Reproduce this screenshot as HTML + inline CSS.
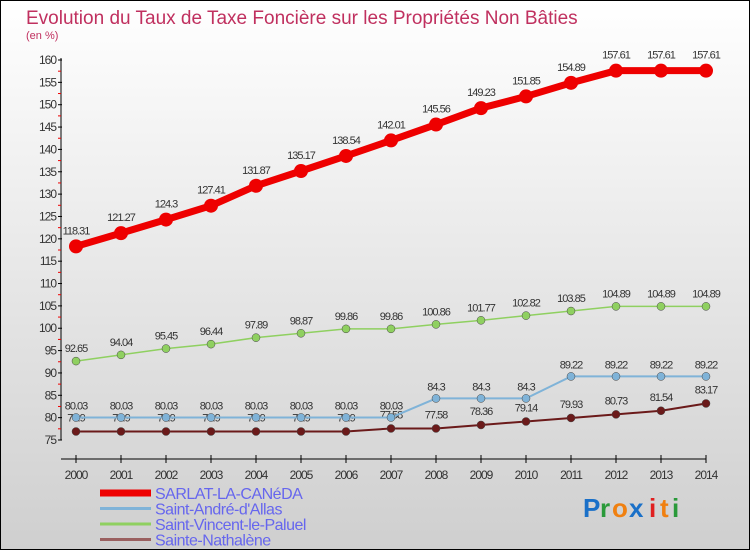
<!DOCTYPE html>
<html><head><meta charset="utf-8"><style>
body{margin:0}
#c{width:750px;height:550px;position:relative;box-sizing:border-box;border:1px solid #000;background:linear-gradient(#fff,#cfcfcf);font-family:"Liberation Sans",sans-serif;overflow:hidden}
</style></head><body>
<div id="c">
<svg id="s" width="750" height="550" style="position:absolute;left:-1px;top:-1px"></svg>
</div>
<script>
const years=[2000,2001,2002,2003,2004,2005,2006,2007,2008,2009,2010,2011,2012,2013,2014];
const sarlat=[118.31,121.27,124.3,127.41,131.87,135.17,138.54,142.01,145.56,149.23,151.85,154.89,157.61,157.61,157.61];
const andre=[80.03,80.03,80.03,80.03,80.03,80.03,80.03,80.03,84.3,84.3,84.3,89.22,89.22,89.22,89.22];
const vincent=[92.65,94.04,95.45,96.44,97.89,98.87,99.86,99.86,100.86,101.77,102.82,103.85,104.89,104.89,104.89];
const nath=[76.9,76.9,76.9,76.9,76.9,76.9,76.9,77.58,77.58,78.36,79.14,79.93,80.73,81.54,83.17];
const yTicks=[75,80,85,90,95,100,105,110,115,120,125,130,135,140,145,150,155,160];
const NS="http://www.w3.org/2000/svg",s=document.getElementById('s');
const X=i=>76+i*45, Y=v=>440-(v-75)*380/85;
function el(t,a,p){const e=document.createElementNS(NS,t);for(const k in a)e.setAttribute(k,a[k]);(p||s).appendChild(e);return e;}
function tx(x,y,str,a){const e=el('text',Object.assign({x:x,y:y},a));e.textContent=str;return e;}
let t=tx(26,24,"Evolution du Taux de Taxe Foncière sur les Propriétés Non Bâties",{fill:"#c0305f","font-size":19});

t=tx(26,39,"(en %)",{fill:"#c0305f","font-size":11});

el('line',{x1:61,y1:58,x2:61,y2:440,stroke:"#000"});
el('line',{x1:61,y1:459,x2:706,y2:459,stroke:"#000"});
yTicks.forEach(v=>{el('line',{x1:58,x2:62,y1:Y(v),y2:Y(v),stroke:"#000"});
 if(v<160)el('line',{x1:58,x2:61,y1:Y(v+2.5),y2:Y(v+2.5),stroke:"#e00"});
 const l=tx(56,Y(v)+4,v,{"text-anchor":"end","font-size":12,fill:"#333","letter-spacing":"-1"});
 });
years.forEach((y,i)=>{el('line',{x1:X(i),x2:X(i),y1:455,y2:463,stroke:"#000"});
 const l=tx(X(i),479,y,{"text-anchor":"middle","font-size":12,fill:"#333","letter-spacing":"-1"});
 });
function series(d,col,w,r,name,lab,dy){
 const g=el('g',{});
 el('polyline',{points:d.map((v,i)=>X(i)+','+Y(v)).join(' '),fill:"none",stroke:col,"stroke-width":w},g);
 d.forEach((v,i)=>{const c=el('circle',{cx:X(i),cy:Y(v),r:r,fill:col,stroke:r>4?"none":"#444","stroke-width":0.5},g);
  
  tx(X(i),Y(v)+dy,String(v).replace(/\.?0+$/,m=>m.includes('.')?'':m),{"text-anchor":"middle","font-size":11,fill:"#333","letter-spacing":"-1"},g);});
}
series(nath,"#6b1a1a",2,4,"sainte-nathalene-series",1,-10);
series(andre,"#7fb3d8",2,4,"saint-andre-series",1,-8);
series(vincent,"#8fd060",1.5,4,"saint-vincent-series",1,-9);
series(sarlat,"#ee0000",7,7,"sarlat-series",1,-12);
const leg=[["SARLAT-LA-CANéDA","#ee0000",7],["Saint-André-d'Allas","#7fb3d8",3],["Saint-Vincent-le-Paluel","#8fd060",3],["Sainte-Nathalène","#9a6060",3]];
leg.forEach((l,i)=>{const g=el('g',{});
 const y=493+i*15.5;el('line',{x1:100,x2:151,y1:y,y2:y,stroke:l[1],"stroke-width":l[2]},g);
 tx(155,y+6,l[0],{"font-size":16,fill:"#6666ee","letter-spacing":"-0.5"},g);});
const lg=el('g',{});
[["P","#1a70c8"],["r","#2a9a3a"],["o","#f08010"],["x","#1a70c8"],["i","#e02020"],["t","#f08010"],["i","#2a9a3a"]].forEach((c,i)=>{
 tx(583+[0,17,29,46,66,77,89][i],517,c[0],{"font-size":26,fill:c[1],"font-weight":"bold"},lg);});
</script>
</body></html>
